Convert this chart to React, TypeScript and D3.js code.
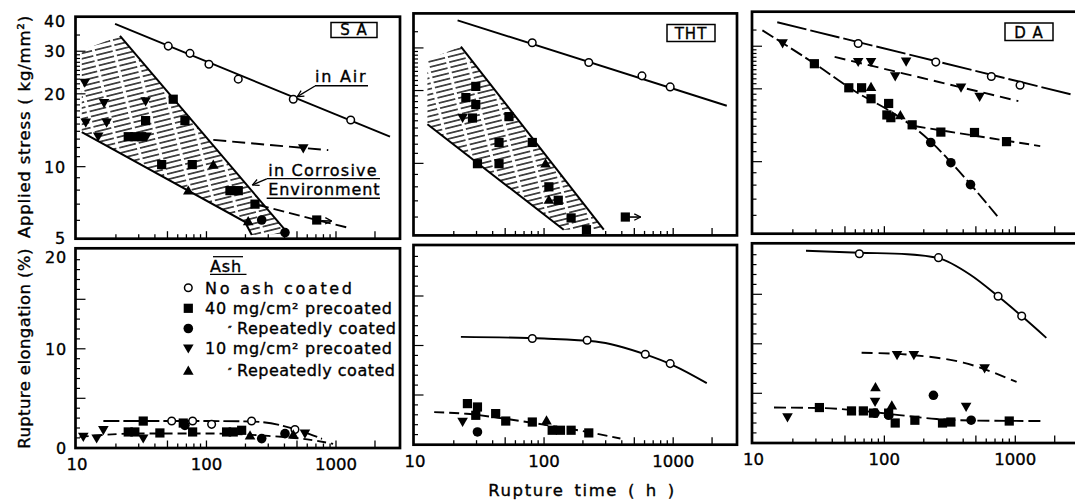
import React from "react";
import * as d3 from "d3";

type Pt = [number, number]; // [rupture time (h), value]

// ---------- Applied stress (kg/mm2), top row ----------
// S A
const saStressNoAsh: Pt[] = [[50.7, 31.5], [74.6, 29.4], [104.5, 26.5], [176, 23.0], [468, 19.0], [1299, 15.6]];
const saStress40Pre: Pt[] = [[55.4, 19.0], [33.9, 15.5], [68.2, 15.5], [24.9, 13.3], [28.0, 13.3], [31.6, 13.3], [45.1, 10.2], [77.7, 10.2], [151.8, 7.96], [176, 7.96], [237, 7.0], [710, 6.02]];
const saStress40Rep: Pt[] = [[267, 6.02], [404, 5.34]];
const saStress10Pre: Pt[] = [[11.5, 22.2], [16.2, 18.3], [33.9, 18.6], [11.7, 15.2], [16.95, 15.2], [14.6, 13.3], [34.5, 13.3], [559, 11.9]];
const saStress10Rep: Pt[] = [[112.9, 10.2], [72.4, 7.98], [210, 5.96]];
const saStressAirLine: Pt[] = [[19.7, 38.9], [2612, 13.3]];
const saStress10Line: Pt[] = [[112.9, 12.9], [872, 11.7]];
const saStress40Line: Pt[] = [[250, 6.95], [710, 6.02], [1283, 5.57]];
const saStressArrow: Pt[] = [[770, 5.98], [925, 5.96]];
const saBand: Pt[] = [[10.9, 30.3], [21.5, 34.7], [426, 5.3], [224, 5.22], [198, 5.92], [10.9, 13.9]];
const saBandEdges: Pt[][] = [[[21.5, 34.7], [426, 5.3]], [[10.9, 13.9], [198, 5.92], [224, 5.22]]];

// THT
const thtStressNoAsh: Pt[] = [[81, 31.5], [222, 26.1], [573, 23.0], [948, 20.7]];
const thtStress40Pre: Pt[] = [[29.6, 20.8], [24.8, 18.7], [29.6, 17.5], [27.9, 15.4], [53.5, 15.6], [44.8, 12.2], [81.1, 12.2], [30.5, 9.97], [44.8, 9.97], [109, 8.0], [128.8, 7.04], [162, 5.95], [213, 5.32], [426, 6.0]];
const thtStress10Pre: Pt[] = [[23.4, 15.4]];
const thtStress10Rep: Pt[] = [[102.7, 10.0], [109, 7.08]];
const thtStressAirLine: Pt[] = [[21.4, 39.0], [2600, 17.3]];
const thtStressArrow: Pt[] = [[455, 6.0], [560, 6.0]];
const thtBand: Pt[] = [[12.5, 26.8], [22.7, 30.4], [290, 5.32], [142, 5.32], [12.5, 14.5]];
const thtBandEdges: Pt[][] = [[[22.7, 30.4], [290, 5.32]], [[12.5, 14.5], [142, 5.32]]];

// D A
const daStressNoAsh: Pt[] = [[63.1, 30.8], [247, 25.8], [656, 22.5], [1087, 20.7]];
const daStress40Pre: Pt[] = [[29.2, 25.4], [53.5, 20.2], [67.0, 20.2], [79.1, 18.2], [107.8, 17.4], [104.5, 15.6], [112, 15.2], [163, 14.2], [270, 13.25], [488, 13.2], [857, 12.1]];
const daStress40Rep: Pt[] = [[226, 12.0], [322, 9.9], [455, 8.04]];
const daStress10Pre: Pt[] = [[16.7, 30.8], [63.1, 25.8], [79.1, 25.8], [121, 22.5], [146.6, 25.9], [385, 20.2], [534, 18.5]];
const daStress10Rep: Pt[] = [[79.1, 20.4], [132.5, 15.6]];
const daStressAirLine: Pt[] = [[15.2, 37.7], [2644, 19.0]];
const daStress10Line: Pt[] = [[41.7, 27.1], [1055, 17.8]];
const daStressSteepLine: Pt[] = [[11.7, 34.9], [30, 25.2], [60, 19.5], [110, 16.2], [170, 13.8], [230, 12.0], [330, 9.8], [460, 8.0], [740, 5.9]];
const daStress40Line: Pt[] = [[173, 14.0], [1550, 11.6]];

// ---------- Rupture elongation (%), bottom row ----------
const saElongNoAsh: Pt[] = [[53.9, 2.7], [78.2, 2.7], [109.6, 2.37], [223, 2.7], [482, 1.84]];
const saElong40Pre: Pt[] = [[32.5, 2.7], [24.9, 1.6], [28.0, 1.6], [43.7, 1.5], [66.2, 2.5], [78.2, 1.6], [143, 1.6], [161, 1.6], [187, 1.77]];
const saElong40Rep: Pt[] = [[68.2, 2.27], [267, 0.93], [404, 1.43]];
const saElong10Pre: Pt[] = [[11.2, 1.1], [14.2, 0.93], [16.0, 1.77], [32.5, 0.93], [576, 1.43]];
const saElong10Rep: Pt[] = [[217, 1.26], [468, 1.36]];
const saElongNoAshLine: Pt[] = [[16, 2.7], [100, 2.7], [230, 2.65], [480, 1.9], [780, 0.9]];
const saElongAshLine: Pt[] = [[10.5, 1.1], [30, 1.45], [100, 1.45], [300, 1.2], [600, 0.85], [950, 0.4]];

const thtElongNoAsh: Pt[] = [[81.1, 10.7], [215.6, 10.53], [608, 9.11], [948, 8.17]];
const thtElong40Pre: Pt[] = [[25.5, 4.13], [30.5, 3.79], [29.6, 2.95], [42.2, 3.12], [50.5, 2.37], [81.1, 2.27], [115.6, 1.44], [134, 1.44], [162, 1.44], [222, 1.17]];
const thtElong40Rep: Pt[] = [[30.5, 1.27]];
const thtElong10Pre: Pt[] = [[23.4, 2.27]];
const thtElong10Rep: Pt[] = [[104.5, 2.45]];
const thtElongNoAshLine: Pt[] = [[22.7, 10.87], [100, 10.7], [250, 10.4], [608, 9.1], [1000, 8.0], [1820, 6.2]];
const thtElongAshLine: Pt[] = [[14.1, 3.27], [25, 3.1], [50, 2.6], [100, 2.0], [200, 1.35], [390, 0.6]];

const daElongNoAsh: Pt[] = [[64.4, 19.1], [259, 18.7], [739, 14.8], [1119, 12.8]];
const daElong40Pre: Pt[] = [[31.9, 3.56], [56.1, 3.22], [69.1, 3.22], [82.5, 3.0], [107.8, 3.0], [121, 2.0], [171, 2.28], [278, 2.0], [322, 2.1], [899, 2.2]];
const daElong40Rep: Pt[] = [[237, 4.8], [84.9, 3.0], [107.8, 2.78], [460, 2.28]];
const daElong10Pre: Pt[] = [[125, 8.84], [168, 8.84], [583, 7.5], [18.2, 2.55], [84.9, 4.13], [421, 3.62]];
const daElong10Rep: Pt[] = [[85.5, 5.64], [114, 3.8]];
const daElongNoAshLine: Pt[] = [[25.2, 19.4], [64.4, 19.2], [150, 19.05], [259, 18.65], [450, 17.0], [739, 14.8], [1119, 12.8], [1726, 10.6]];
const daElong10Line: Pt[] = [[67, 9.1], [168, 8.85], [400, 8.1], [1023, 6.15]];
const daElongAshLine: Pt[] = [[14.35, 3.56], [35, 3.5], [70, 3.2], [130, 2.8], [250, 2.4], [460, 2.25], [1625, 2.2]];

// ---------- labels ----------
const panelNames = ["S A", "THT", "D A"];
const stressTickLabels = [40, 30, 20, 10, 5];
const elongTickLabels = [20, 10, 0];
const timeTickLabels = [10, 100, 1000];
const legendKinds: Kind[] = ["open", "sq", "dot", "tdown", "tup"];
const legendDitto = [false, false, true, false, true];
const legendTexts = ["No ash coated", "40 mg/cm² precoated", "Repeatedly coated", "10 mg/cm² precoated", "Repeatedly coated"];

type Kind = "open" | "sq" | "dot" | "tdown" | "tup";
type Curve = { pts: Pt[]; dash?: string };
type Panel = {
  col: number;
  row: 0 | 1;
  series: { kind: Kind; pts: Pt[] }[];
  curves: Curve[];
  band?: Pt[];
  bandEdges?: Pt[][];
  arrows?: Pt[][];
};

const panels: Panel[] = [
  {
    col: 0, row: 0,
    series: [
      { kind: "open", pts: saStressNoAsh }, { kind: "sq", pts: saStress40Pre }, { kind: "dot", pts: saStress40Rep },
      { kind: "tdown", pts: saStress10Pre }, { kind: "tup", pts: saStress10Rep },
    ],
    curves: [{ pts: saStressAirLine }, { pts: saStress10Line, dash: "13 6" }, { pts: saStress40Line, dash: "11 5" }],
    band: saBand, bandEdges: saBandEdges, arrows: [saStressArrow],
  },
  {
    col: 1, row: 0,
    series: [
      { kind: "open", pts: thtStressNoAsh }, { kind: "sq", pts: thtStress40Pre },
      { kind: "tdown", pts: thtStress10Pre }, { kind: "tup", pts: thtStress10Rep },
    ],
    curves: [{ pts: thtStressAirLine }],
    band: thtBand, bandEdges: thtBandEdges, arrows: [thtStressArrow],
  },
  {
    col: 2, row: 0,
    series: [
      { kind: "open", pts: daStressNoAsh }, { kind: "sq", pts: daStress40Pre }, { kind: "dot", pts: daStress40Rep },
      { kind: "tdown", pts: daStress10Pre }, { kind: "tup", pts: daStress10Rep },
    ],
    curves: [
      { pts: daStressAirLine, dash: "30 4" }, { pts: daStress10Line, dash: "11 6" },
      { pts: daStressSteepLine, dash: "13 4" }, { pts: daStress40Line, dash: "10 5" },
    ],
  },
  {
    col: 0, row: 1,
    series: [
      { kind: "open", pts: saElongNoAsh }, { kind: "sq", pts: saElong40Pre }, { kind: "dot", pts: saElong40Rep },
      { kind: "tdown", pts: saElong10Pre }, { kind: "tup", pts: saElong10Rep },
    ],
    curves: [{ pts: saElongNoAshLine, dash: "16 4" }, { pts: saElongAshLine, dash: "9 5" }],
  },
  {
    col: 1, row: 1,
    series: [
      { kind: "open", pts: thtElongNoAsh }, { kind: "sq", pts: thtElong40Pre }, { kind: "dot", pts: thtElong40Rep },
      { kind: "tdown", pts: thtElong10Pre }, { kind: "tup", pts: thtElong10Rep },
    ],
    curves: [{ pts: thtElongNoAshLine }, { pts: thtElongAshLine, dash: "10 5" }],
  },
  {
    col: 2, row: 1,
    series: [
      { kind: "open", pts: daElongNoAsh }, { kind: "sq", pts: daElong40Pre }, { kind: "dot", pts: daElong40Rep },
      { kind: "tdown", pts: daElong10Pre }, { kind: "tup", pts: daElong10Rep },
    ],
    curves: [{ pts: daElongNoAshLine }, { pts: daElong10Line, dash: "11 6" }, { pts: daElongAshLine, dash: "12 5" }],
  },
];

const W = 1075;
const H = 503;
const FONT = "'DejaVu Sans', sans-serif";
// scanned print looks heavy: give text a thin outline
const INK = { fill: "#000", stroke: "#000", strokeWidth: 0.35 };

// scanned page is slightly tilted: right columns sit a bit higher
const cols = [
  { left: 75.5, right: 400, dy: 0 },
  { left: 413.5, right: 737, dy: -3.3 },
  { left: 752, right: 1080, dy: -5 },
];
const rows = [
  { top: 16.7, bottom: 238.7 },
  { top: 248.3, bottom: 448 },
];

const yStress = d3.scaleLog().domain([5, 40]).range([239.5, 21]);
const yElong = d3.scaleLinear().domain([0, 20]).range([447.8, 249.8]);
const xFor = (c: number) => d3.scaleLog().domain([9.75, 3120]).range([cols[c].left, cols[c].right]);

const xMinor = [20, 30, 40, 50, 60, 70, 80, 90, 100, 200, 300, 400, 500, 600, 700, 800, 900, 1000, 2000];
const xTall = new Set([50, 100, 500, 1000, 2000]);
const stressTicks = [...d3.range(6, 31), 35];
const elongTicks = d3.range(1, 20);

function marker(kind: Kind, x: number, y: number, key: string) {
  switch (kind) {
    case "open":
      return <circle key={key} cx={x} cy={y} r={3.8} fill="#fff" stroke="#000" strokeWidth={1.5} />;
    case "sq":
      return <rect key={key} x={x - 4.6} y={y - 4.6} width={9.2} height={9.2} fill="#000" />;
    case "dot":
      return <circle key={key} cx={x} cy={y} r={4.8} fill="#000" />;
    case "tdown":
      return <path key={key} d={`M${x - 5.3},${y - 4.2}L${x + 5.3},${y - 4.2}L${x},${y + 5}Z`} fill="#000" />;
    case "tup":
      return <path key={key} d={`M${x - 5.3},${y + 4.2}L${x + 5.3},${y + 4.2}L${x},${y - 5}Z`} fill="#000" />;
  }
}

function PanelView({ p }: { p: Panel }) {
  const xs = xFor(p.col);
  const ys: (v: number) => number = p.row === 0 ? (v) => yStress(v) : (v) => yElong(v);
  const { left, right } = cols[p.col];
  const { top, bottom } = rows[p.row];
  const line = d3.line<Pt>().x((d) => xs(d[0])).y((d) => ys(d[1])).curve(d3.curveMonotoneX);
  const straight = d3.line<Pt>().x((d) => xs(d[0])).y((d) => ys(d[1]));
  const yTicks = p.row === 0 ? stressTicks : elongTicks;
  const yLong = (v: number) => (p.row === 0 ? v === 10 || v === 20 || v === 30 : v % 5 === 0);

  return (
    <g transform={`translate(0,${cols[p.col].dy})`}>
      {p.band && <path d={straight(p.band) + "Z"} fill="url(#hatch)" stroke="none" />}
      {p.bandEdges &&
        p.bandEdges.map((e, i) => <path key={"be" + i} d={straight(e) || ""} fill="none" stroke="#000" strokeWidth={2} />)}
      {p.curves.map((c, i) => (
        <path key={"c" + i} d={line(c.pts) || ""} fill="none" stroke="#000" strokeWidth={1.9} strokeDasharray={c.dash} />
      ))}
      {p.arrows &&
        p.arrows.map((a, i) => (
          <path key={"a" + i} d={straight(a) || ""} fill="none" stroke="#000" strokeWidth={1.6} markerEnd="url(#arrowOpen)" />
        ))}
      {p.series.map((s, si) => s.pts.map((d, i) => marker(s.kind, xs(d[0]), ys(d[1]), `m${si}-${i}`)))}
      {xMinor.map((t) => (
        <line key={"xt" + t} x1={xs(t)} x2={xs(t)} y1={bottom} y2={bottom - (xTall.has(t) ? 7.5 : 4.5)} stroke="#000" strokeWidth={1.3} />
      ))}
      {yTicks.map((v) => (
        <line key={"yt" + v} x1={left} x2={left + (yLong(v) ? 10 : 4.5)} y1={ys(v)} y2={ys(v)} stroke="#000" strokeWidth={1.2} />
      ))}
      <rect x={left} y={top} width={right - left} height={bottom - top} fill="none" stroke="#000" strokeWidth={2.7} />
      {p.row === 1 &&
        timeTickLabels.map((t) => (
          <text key={"xl" + t} x={xs(t)} y={470} textAnchor="middle" fontSize={16.5} fontFamily={FONT} {...INK}>
            {t}
          </text>
        ))}
    </g>
  );
}

export default function App() {
  const xs0 = xFor(0);
  const boxes = [
    { x: 331, y: 22.5, w: 46, h: 15 },
    { x: 667, y: 24.5, w: 48, h: 17 },
    { x: 1005, y: 23, w: 48, h: 17.5 },
  ];
  const legendX = 188.3;
  const legendY = [287.7, 308.3, 328.5, 348.6, 370.5];
  const legendWidth = [147, 187, 159, 187, 158];

  return (
    <div style={{ position: "absolute", left: 0, top: 0, width: W, height: H, background: "#fff" }}>
      <svg width={W} height={H} viewBox={`0 0 ${W} ${H}`} style={{ display: "block" }}>
        <defs>
          <pattern id="hatch" patternUnits="userSpaceOnUse" width={40} height={5.3} patternTransform="rotate(-14)">
            <line x1={0} y1={2.6} x2={40} y2={2.6} stroke="#000" strokeWidth={1.4} strokeDasharray="17 3" />
          </pattern>
          <marker id="arrowOpen" viewBox="0 0 10 10" refX={9} refY={5} markerWidth={8} markerHeight={8} markerUnits="userSpaceOnUse" orient="auto">
            <path d="M1,1 L9,5 L1,9" fill="none" stroke="#000" strokeWidth={1.6} />
          </marker>
        </defs>

        {panels.map((p, i) => (
          <PanelView key={i} p={p} />
        ))}

        {/* panel name boxes */}
        {boxes.map((b, i) => (
          <g key={"box" + i}>
            <rect x={b.x} y={b.y} width={b.w} height={b.h} fill="#fff" stroke="#000" strokeWidth={1.5} />
            <text x={b.x + b.w / 2} y={b.y + b.h - 2.5} textAnchor="middle" fontSize={15} fontFamily={FONT} letterSpacing={1} {...INK}>
              {panelNames[i]}
            </text>
          </g>
        ))}

        {/* y tick labels */}
        {stressTickLabels.map((v) => (
          <text key={"sl" + v} x={66} y={v === 5 ? 243.5 : yStress(v) + 6} textAnchor="end" fontSize={16} fontFamily={FONT} letterSpacing={0.8} {...INK}>
            {v}
          </text>
        ))}
        {elongTickLabels.map((v) => (
          <text key={"el" + v} x={67} y={Math.max(yElong(v) + 6, 262.5)} textAnchor="end" fontSize={16} fontFamily={FONT} letterSpacing={0.8} {...INK}>
            {v}
          </text>
        ))}

        {/* axis titles */}
        <text transform="translate(29.5,126.5) rotate(-90)" textAnchor="middle" fontSize={16.5} fontFamily={FONT} letterSpacing={0.8} {...INK}>
          Applied stress ( kg/mm²)
        </text>
        <text transform="translate(29.5,348.5) rotate(-90)" textAnchor="middle" fontSize={16.5} fontFamily={FONT} letterSpacing={0.4} {...INK}>
          Rupture elongation (%)
        </text>
        <text x={582} y={496} textAnchor="middle" fontSize={16.5} fontFamily={FONT} letterSpacing={1.6} wordSpacing={3} {...INK}>
          Rupture time ( h )
        </text>

        {/* annotations in S A panel */}
        <text x={315} y={81.7} fontSize={16} fontFamily={FONT} letterSpacing={1.8} {...INK}>in Air</text>
        <line x1={315} x2={368} y1={85.7} y2={85.7} stroke="#000" strokeWidth={1.4} />
        <line x1={315} y1={86} x2={xs0(468) + 4} y2={yStress(19.0) - 2.5} stroke="#000" strokeWidth={1.4} markerEnd="url(#arrowOpen)" />
        <text x={268.3} y={175.5} fontSize={16} fontFamily={FONT} letterSpacing={1.2} {...INK}>in Corrosive</text>
        <line x1={266.7} x2={380} y1={178.6} y2={178.6} stroke="#000" strokeWidth={1.4} />
        <text x={268.3} y={195} fontSize={16} fontFamily={FONT} letterSpacing={0.9} {...INK}>Environment</text>
        <line x1={266.7} x2={380} y1={198.3} y2={198.3} stroke="#000" strokeWidth={1.4} />
        <line x1={266.7} y1={178.8} x2={252.5} y2={185} stroke="#000" strokeWidth={1.4} markerEnd="url(#arrowOpen)" />

        {/* legend */}
        <line x1={213} x2={243} y1={256.7} y2={256.7} stroke="#000" strokeWidth={1.3} />
        <text x={210} y={271.5} fontSize={16} fontFamily={FONT} letterSpacing={0.8} {...INK}>Ash</text>
        <line x1={210} x2={246.5} y1={274.3} y2={274.3} stroke="#000" strokeWidth={1.3} />
        {legendTexts.map((txt, i) => (
          <g key={"lg" + i}>
            {marker(legendKinds[i], legendX, legendY[i], "lm" + i)}
            {legendDitto[i] && (
              <text x={228} y={legendY[i] + 5} fontSize={10} fontFamily={FONT} {...INK}>
                ″
              </text>
            )}
            <text
              x={legendDitto[i] ? 237 : 205}
              y={legendY[i] + 5.8}
              fontSize={16}
              fontFamily={FONT}
              textLength={legendWidth[i]}
              lengthAdjust="spacing"
              {...INK}
            >
              {txt}
            </text>
          </g>
        ))}
      </svg>
    </div>
  );
}
